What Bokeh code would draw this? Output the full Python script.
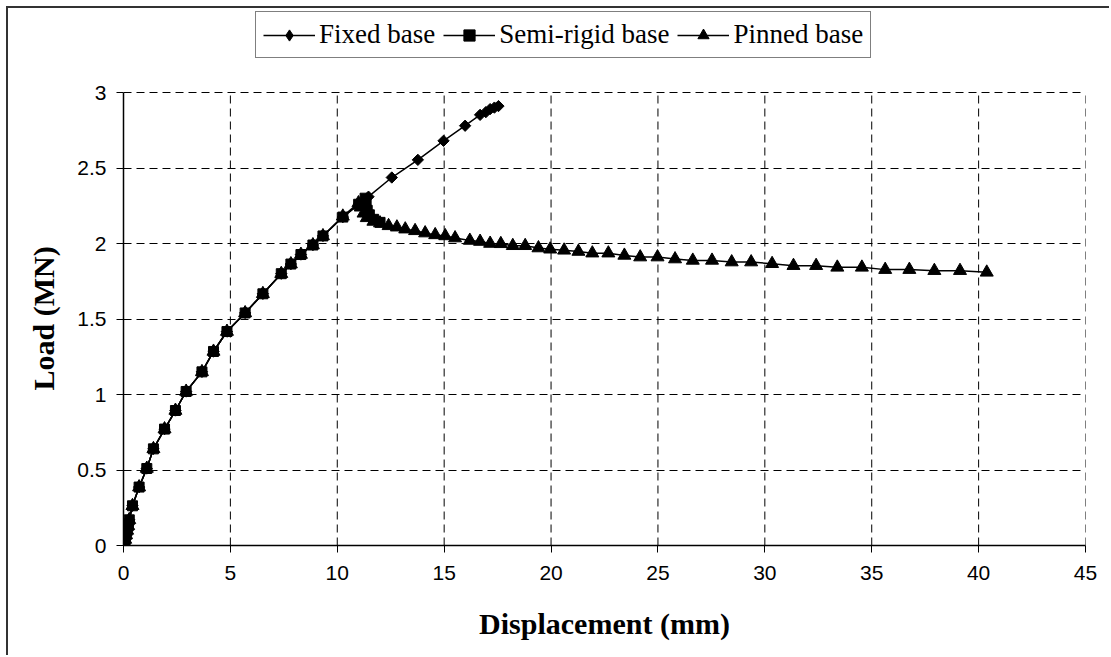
import numpy as np
from bokeh.plotting import figure
from bokeh.models import Legend, LegendItem, FixedTicker, Range1d, Title
from bokeh.embed import file_html
from bokeh.resources import INLINE

# ---------------- data ----------------
shared_x = [0.0, 0.04, 0.08, 0.12, 0.17, 0.22, 0.27, 0.42, 0.73, 1.09, 1.40, 1.92, 2.43,
            2.93, 3.67, 4.21, 4.84, 5.69, 6.52, 7.38, 7.83, 8.30, 8.86]
shared_y = [0.0, 0.02, 0.04, 0.07, 0.10, 0.13, 0.17, 0.263, 0.387, 0.51, 0.64, 0.771, 0.894,
            1.02, 1.15, 1.285, 1.417, 1.54, 1.667, 1.80, 1.864, 1.927, 1.99]

fixed_x = shared_x + [9.33, 10.26, 11.46, 12.55, 13.77, 14.97, 15.98, 16.68, 16.95, 17.15, 17.35, 17.54]
fixed_y = shared_y + [2.05, 2.175, 2.31, 2.437, 2.554, 2.68, 2.78, 2.852, 2.87, 2.89, 2.90, 2.91]

semi_x = shared_x + [9.33, 10.26, 11.0, 11.3, 11.35, 11.4, 11.5, 11.7, 12.0]
semi_y = shared_y + [2.05, 2.175, 2.26, 2.30, 2.26, 2.22, 2.19, 2.16, 2.14]

pinned_x = shared_x + [9.33, 10.26, 10.99, 11.1, 11.23, 11.38, 11.69, 12.0, 12.4, 12.79, 13.18,
                       13.64, 14.11, 14.58, 15.05, 15.51, 16.2, 16.68, 17.15, 17.65, 18.21,
                       18.79, 19.41, 19.96, 20.61, 21.28, 21.93, 22.68, 23.43, 24.17, 24.98,
                       25.80, 26.63, 27.53, 28.45, 29.36, 30.34, 31.34, 32.40, 33.39, 34.54,
                       35.63, 36.76, 37.93, 39.13, 40.38]
pinned_y = shared_y + [2.05, 2.18, 2.268, 2.24, 2.20, 2.17, 2.146, 2.135, 2.117, 2.108, 2.095,
                       2.084, 2.069, 2.057, 2.05, 2.036, 2.02, 2.013, 2.0, 1.998, 1.985,
                       1.985, 1.97, 1.962, 1.955, 1.947, 1.936, 1.936, 1.921, 1.910, 1.910,
                       1.897, 1.888, 1.888, 1.877, 1.877, 1.866, 1.853, 1.853, 1.842, 1.842,
                       1.827, 1.827, 1.82, 1.82, 1.809]

x_ticks = [0, 5, 10, 15, 20, 25, 30, 35, 40, 45]
x_tick_labels = ["0", "5", "10", "15", "20", "25", "30", "35", "40", "45"]
y_ticks = [0, 0.5, 1, 1.5, 2, 2.5, 3]
y_tick_labels = ["0", "0.5", "1", "1.5", "2", "2.5", "3"]

series_names = ["Fixed base", "Semi-rigid base", "Pinned base"]
x_title = "Displacement (mm)"
y_title = "Load (MN)"

# ---------------- figure ----------------
OFF = 8                      # outer frame drawn by CSS border
W, H = 1111 - OFF, 657 - OFF
FRAME_BOTTOM = 545 - OFF     # canvas y of value 0
PX_PER_UNIT = 151.0          # vertical scale
y_end = FRAME_BOTTOM / PX_PER_UNIT

p = figure(width=W, height=H, x_range=Range1d(0, 45), y_range=Range1d(0, y_end),
           output_backend="svg", toolbar_location=None,
           min_border_left=123 - OFF, min_border_right=26, min_border_top=0,
           min_border_bottom=H - FRAME_BOTTOM,
           background_fill_color="white", border_fill_color="white")
p.styles = {"border-left": "2px solid #333333", "border-top": "2px solid #333333",
            "margin-left": "6px", "margin-top": "6px"}
p.outline_line_color = None

for ax in (p.xaxis[0], p.yaxis[0]):
    ax.axis_line_color = "black"
    ax.axis_line_width = 1.5
    ax.major_tick_line_color = "black"
    ax.major_tick_line_width = 1
    ax.major_tick_in = 0
    ax.major_tick_out = 7
    ax.minor_tick_line_color = None
    ax.major_label_text_font = "Liberation Sans"
    ax.major_label_text_font_size = "21px"
    ax.major_label_text_color = "black"
    ax.axis_label_text_font = "Liberation Serif"
    ax.axis_label_text_font_style = "bold"
    ax.axis_label_text_font_size = "30px"
    ax.axis_label_text_color = "black"

p.xaxis[0].ticker = FixedTicker(ticks=x_ticks)
p.xaxis[0].major_label_overrides = {t: l for t, l in zip(x_ticks, x_tick_labels)}
p.yaxis[0].ticker = FixedTicker(ticks=y_ticks)
p.yaxis[0].major_label_overrides = {t: l for t, l in zip(y_ticks, y_tick_labels)}
p.yaxis[0].bounds = (y_ticks[0], y_ticks[-1])
p.xaxis[0].axis_label = x_title
p.xaxis[0].major_label_standoff = 13
p.yaxis[0].major_label_standoff = 10
p.xaxis[0].axis_label_standoff = 24

# y title: a left-side title, started at the level of the axis' middle
ytitle = Title(text=y_title, align="left", offset=155,
               text_font="Liberation Serif", text_font_style="bold",
               text_font_size="30px", text_color="black", standoff=30)
p.add_layout(ytitle, "left")

# horizontal grid through the library grid; vertical grid limited to the value range
p.ygrid[0].ticker = FixedTicker(ticks=y_ticks)
p.ygrid[0].grid_line_color = "black"
p.ygrid[0].grid_line_width = 1
p.ygrid[0].grid_line_dash = "8 5"
p.xgrid[0].grid_line_color = None
p.segment(x0=x_ticks[1:], y0=[y_ticks[0]] * (len(x_ticks) - 1),
          x1=x_ticks[1:], y1=[y_ticks[-1]] * (len(x_ticks) - 1),
          line_color="black", line_width=1, line_dash="8 5")

lw = 1.5
r_fl = p.line(fixed_x, fixed_y, line_color="black", line_width=lw)
r_fm = p.scatter(fixed_x, fixed_y, marker="square", angle=np.pi / 4, size=8,
                 fill_color="black", line_color="black")
r_sl = p.line(semi_x, semi_y, line_color="black", line_width=lw)
r_sm = p.scatter(semi_x, semi_y, marker="square", size=10, fill_color="black", line_color="black")
r_pl = p.line(pinned_x, pinned_y, line_color="black", line_width=lw)
r_pm = p.scatter(pinned_x, pinned_y, marker="triangle", size=13, fill_color="black", line_color="black")
# legend-only diamond glyph (hidden renderer on the same data)
r_fd = p.scatter(fixed_x, fixed_y, marker="diamond", size=14, fill_color="black",
                 line_color="black", visible=False)

legend = Legend(items=[
    LegendItem(label=series_names[0], renderers=[r_fl, r_fd]),
    LegendItem(label=series_names[1], renderers=[r_sl, r_sm]),
    LegendItem(label=series_names[2], renderers=[r_pl, r_pm]),
], orientation="horizontal", location=(132, FRAME_BOTTOM - (58 - OFF)))
legend.label_text_font = "Liberation Serif"
legend.label_text_font_size = "27px"
legend.label_text_color = "black"
legend.border_line_color = "black"
legend.border_line_width = 1
legend.background_fill_color = "white"
legend.background_fill_alpha = 1
legend.inactive_fill_alpha = 0
legend.glyph_width = 52
legend.glyph_height = 28
legend.label_standoff = 4
legend.spacing = 8
legend.padding = 7
legend.margin = 0
p.add_layout(legend, "center")

open("out.html", "w").write(file_html(p, INLINE))
